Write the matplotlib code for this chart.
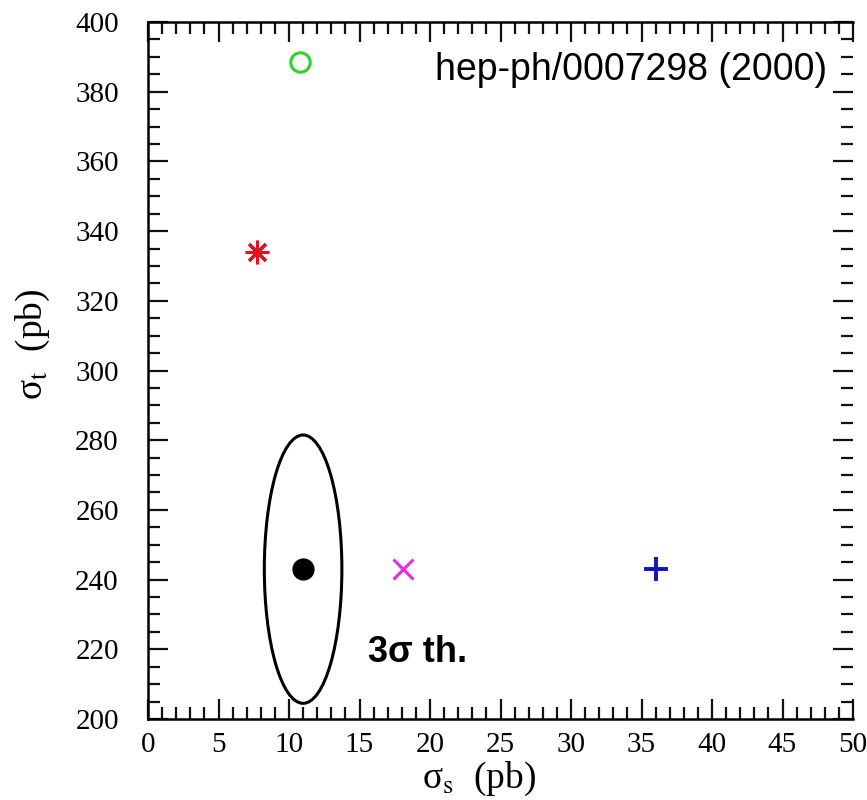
"""
sigma_s vs sigma_t: SM point with 3 sigma theory ellipse and model points
"""
import matplotlib
matplotlib.use('Agg')
import matplotlib.pyplot as plt
from matplotlib.patches import Ellipse
from matplotlib.ticker import MultipleLocator

# central value and 3 sigma theory ellipse (pb)
center_s = 11.0
center_t = 243.0
ellipse_ds = 5.5      # full width along sigma_s
ellipse_dt = 77.0     # full height along sigma_t

# model points (pb)
model_s = [10.8, 7.7, 18.1, 36.0]
model_t = [388.5, 334.0, 243.0, 243.0]
model_marker = ['o', (8, 2, 0), 'x', '+']
model_color = ['#2ed12e', '#e8101a', '#e030e0', '#1010c8']
model_size = [14, 17, 15, 17]
model_mew = [2.2, 2.2, 2.2, 2.8]

plt.rcParams['font.family'] = 'serif'
plt.rcParams['font.serif'] = ['Liberation Serif', 'DejaVu Serif']
plt.rcParams['mathtext.fontset'] = 'stix'

fig = plt.figure(figsize=(8.67, 8.0), dpi=100)
ax = fig.add_axes([148/867, 81/800, 705/867, 697/800])

ax.add_patch(Ellipse((center_s, center_t), ellipse_ds, ellipse_dt,
                     fill=False, ec='black', lw=2.2))
ax.plot(center_s, center_t, 'o', color='black', ms=15)

for s, t, m, c, ms, mew in zip(model_s, model_t, model_marker, model_color,
                               model_size, model_mew):
    ax.plot(s, t, linestyle='none', marker=m, color=c, ms=ms, mew=mew,
            mfc='none')

ax.text(15.6, 216.4, '3σ th.', fontsize=26, fontweight='bold',
        family='Liberation Sans', va='baseline', ha='left')
ax.text(48.2, 383.4, 'hep-ph/0007298 (2000)', fontsize=27,
        family='Liberation Sans', va='baseline', ha='right')

ax.set_xlim(0, 50)
ax.set_ylim(200, 400)
ax.xaxis.set_major_locator(MultipleLocator(5))
ax.xaxis.set_minor_locator(MultipleLocator(1))
ax.yaxis.set_major_locator(MultipleLocator(20))
ax.yaxis.set_minor_locator(MultipleLocator(5))
ax.tick_params(which='both', direction='in', top=True, right=True,
               width=1.6, labelsize=21, color='#111111')
ax.tick_params(which='major', length=14.5)
ax.tick_params(which='minor', length=8.5)
ax.tick_params(axis='y', pad=21)
ax.tick_params(axis='x', pad=9)
ax.spines['right'].set_visible(False)
for side in ['left', 'bottom', 'top']:
    ax.spines[side].set_linewidth(1.8)

ax.set_xlabel('σ$_{\\rm s}$  (pb)', fontsize=27)
ax.set_ylabel('σ$_{\\rm t}$  (pb)', fontsize=27)
ax.xaxis.set_label_coords(0.47, -0.059)
ax.yaxis.set_label_coords(-0.136, 0.538)

fig.savefig('out.png', dpi=100)
